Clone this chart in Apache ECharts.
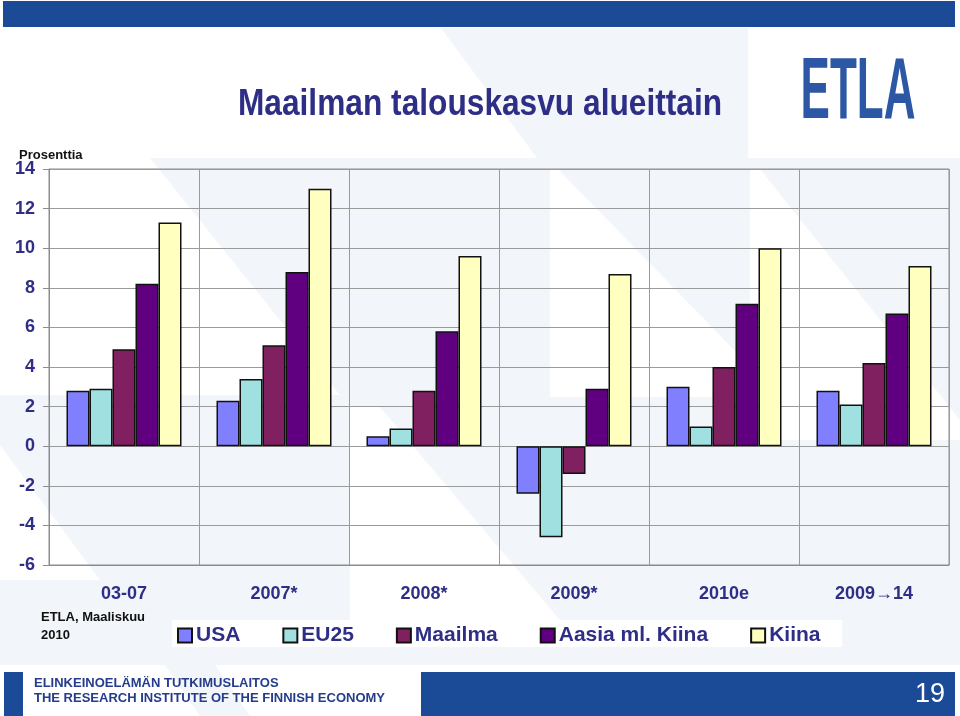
<!DOCTYPE html>
<html>
<head>
<meta charset="utf-8">
<script src="https://cdn.jsdelivr.net/npm/echarts@6/dist/echarts.min.js"></script>
<style>html,body{margin:0;padding:0;background:#fff}#c{width:960px;height:716px}</style>
</head>
<body>
<div id="c"></div>
<script>
// ---- data ----
const categories = ['03-07', '2007*', '2008*', '2009*', '2010e', '2009\u219214'];
const seriesNames = ['USA', 'EU25', 'Maailma', 'Aasia ml. Kiina', 'Kiina'];
const usa     = [2.8, 2.3, 0.5, -2.4, 3.0, 2.8];
const eu25    = [2.9, 3.4, 0.9, -4.6, 1.0, 2.1];
const maailma = [4.9, 5.1, 2.8, -1.4, 4.0, 4.2];
const aasia   = [8.2, 8.8, 5.8, 2.9, 7.2, 6.7];
const kiina   = [11.3, 13.0, 9.6, 8.7, 10.0, 9.1];
const yMin = -6, yMax = 14, yStep = 2;

// ---- styles ----
const colors = ['#8080FF', '#A0E0E0', '#802060', '#600080', '#FFFFC0'];
const navy = '#2E2E86';
const light = '#F2F5F9';
const blue = '#1B4A96';
const FONT = 'Liberation Sans, Arial, sans-serif';

const values = [usa, eu25, maailma, aasia, kiina];
const chart = echarts.init(document.getElementById('c'), null, {renderer: 'canvas'});

const series = seriesNames.map((n, i) => ({
  name: n,
  type: 'bar',
  data: values[i],
  barWidth: 23,
  barGap: '0%',
  itemStyle: {color: colors[i], borderColor: '#111', borderWidth: 1.5},
  emphasis: {disabled: true}
}));

const bgZ = -10;
const graphics = [
  // light background polygons
  {type: 'polygon', z: bgZ, silent: true, shape: {points: [[441,28],[748,28],[748,158],[960,158],[960,716],[0,716],[0,158],[537,158]]}, style: {fill: light}},
  {type: 'polygon', z: bgZ + 1, silent: true, shape: {points: [[0,158],[150,158],[340,395],[0,395]]}, style: {fill: '#fff'}},
  {type: 'polygon', z: bgZ + 1, silent: true, shape: {points: [[550,169],[558,169],[780,397],[550,397]]}, style: {fill: '#fff'}},
  {type: 'polygon', z: bgZ + 1, silent: true, shape: {points: [[750,169],[760,169],[960,420],[960,440],[750,440]]}, style: {fill: '#fff'}},
  {type: 'polygon', z: bgZ + 1, silent: true, shape: {points: [[0,445],[100,580],[0,580]]}, style: {fill: '#fff'}},
  {type: 'polygon', z: bgZ + 1, silent: true, shape: {points: [[350,407],[380,407],[560,620],[350,620]]}, style: {fill: '#fff'}},
  {type: 'rect', z: bgZ + 2, silent: true, shape: {x: 0, y: 665, width: 960, height: 51}, style: {fill: '#fff'}},
  {type: 'polygon', z: bgZ + 3, silent: true, shape: {points: [[165,665],[215,665],[250,716],[200,716]]}, style: {fill: light}},
  // legend white band
  {type: 'rect', z: bgZ + 4, silent: true, shape: {x: 172, y: 620, width: 670, height: 27}, style: {fill: '#fff'}},
  // top banner
  {type: 'rect', silent: true, shape: {x: 3, y: 1, width: 952, height: 26}, style: {fill: blue}},
  // title
  {type: 'text', silent: true, x: 480, y: 105, scaleX: 0.88, style: {text: 'Maailman talouskasvu alueittain', fill: navy, font: 'bold 36px ' + FONT, textAlign: 'center', textVerticalAlign: 'middle'}},
  // ETLA logo
  {type: 'text', silent: true, x: 858, y: 94, scaleX: 0.5, style: {text: 'ETLA', fill: '#2C57A5', font: 'bold 88px ' + FONT, textAlign: 'center', textVerticalAlign: 'middle'}},
  // unit label
  {type: 'text', silent: true, x: 19, y: 155, style: {text: 'Prosenttia', fill: '#111', font: 'bold 13px ' + FONT, textVerticalAlign: 'middle'}},
  // source
  {type: 'text', silent: true, x: 41, y: 617, style: {text: 'ETLA, Maaliskuu', fill: '#111', font: 'bold 13px ' + FONT, textVerticalAlign: 'middle'}},
  {type: 'text', silent: true, x: 41, y: 635, style: {text: '2010', fill: '#111', font: 'bold 13px ' + FONT, textVerticalAlign: 'middle'}},
  // footer
  {type: 'rect', silent: true, shape: {x: 4, y: 672, width: 19, height: 44}, style: {fill: blue}},
  {type: 'rect', silent: true, shape: {x: 421, y: 672, width: 534, height: 44}, style: {fill: blue}},
  {type: 'text', silent: true, x: 34, y: 683, style: {text: 'ELINKEINOEL\u00c4M\u00c4N TUTKIMUSLAITOS', fill: '#253C8C', font: 'bold 13px ' + FONT, textVerticalAlign: 'middle'}},
  {type: 'text', silent: true, x: 34, y: 698, style: {text: 'THE RESEARCH INSTITUTE OF THE FINNISH ECONOMY', fill: '#253C8C', font: 'bold 13px ' + FONT, textVerticalAlign: 'middle'}},
  {type: 'text', silent: true, x: 945, y: 695, style: {text: '19', fill: '#fff', font: '27px ' + FONT, textAlign: 'right', textVerticalAlign: 'middle'}}
];

chart.setOption({
  backgroundColor: '#fff',
  animation: false,
  color: colors,
  grid: {left: 49, right: 11, top: 169, bottom: 151, show: true, borderColor: '#8C8C8C', borderWidth: 1, backgroundColor: 'transparent'},
  legend: {
    data: seriesNames,
    left: 177, top: 625,
    padding: 0,
    itemWidth: 14, itemHeight: 14, itemGap: 42,
    icon: 'rect',
    selectedMode: false,
    textStyle: {color: navy, fontFamily: FONT, fontWeight: 'bold', fontSize: 21, padding: [0, 0, 0, -1]}
  },
  xAxis: {
    type: 'category',
    data: categories,
    axisLine: {onZero: false, lineStyle: {color: '#8C8C8C'}},
    axisTick: {show: false},
    splitLine: {show: true, interval: 0, lineStyle: {color: '#9A9A9A', width: 1}},
    axisLabel: {color: navy, fontFamily: FONT, fontWeight: 'bold', fontSize: 18, margin: 20, interval: 0}
  },
  yAxis: {
    type: 'value',
    min: yMin, max: yMax, interval: yStep,
    axisLine: {show: true, lineStyle: {color: '#8C8C8C'}},
    axisTick: {show: true, length: 6, lineStyle: {color: '#8C8C8C'}},
    splitLine: {lineStyle: {color: '#9A9A9A', width: 1}},
    axisLabel: {color: navy, fontFamily: FONT, fontWeight: 'bold', fontSize: 18, margin: 14}
  },
  graphic: {elements: graphics},
  series: series
});
</script>
</body>
</html>
